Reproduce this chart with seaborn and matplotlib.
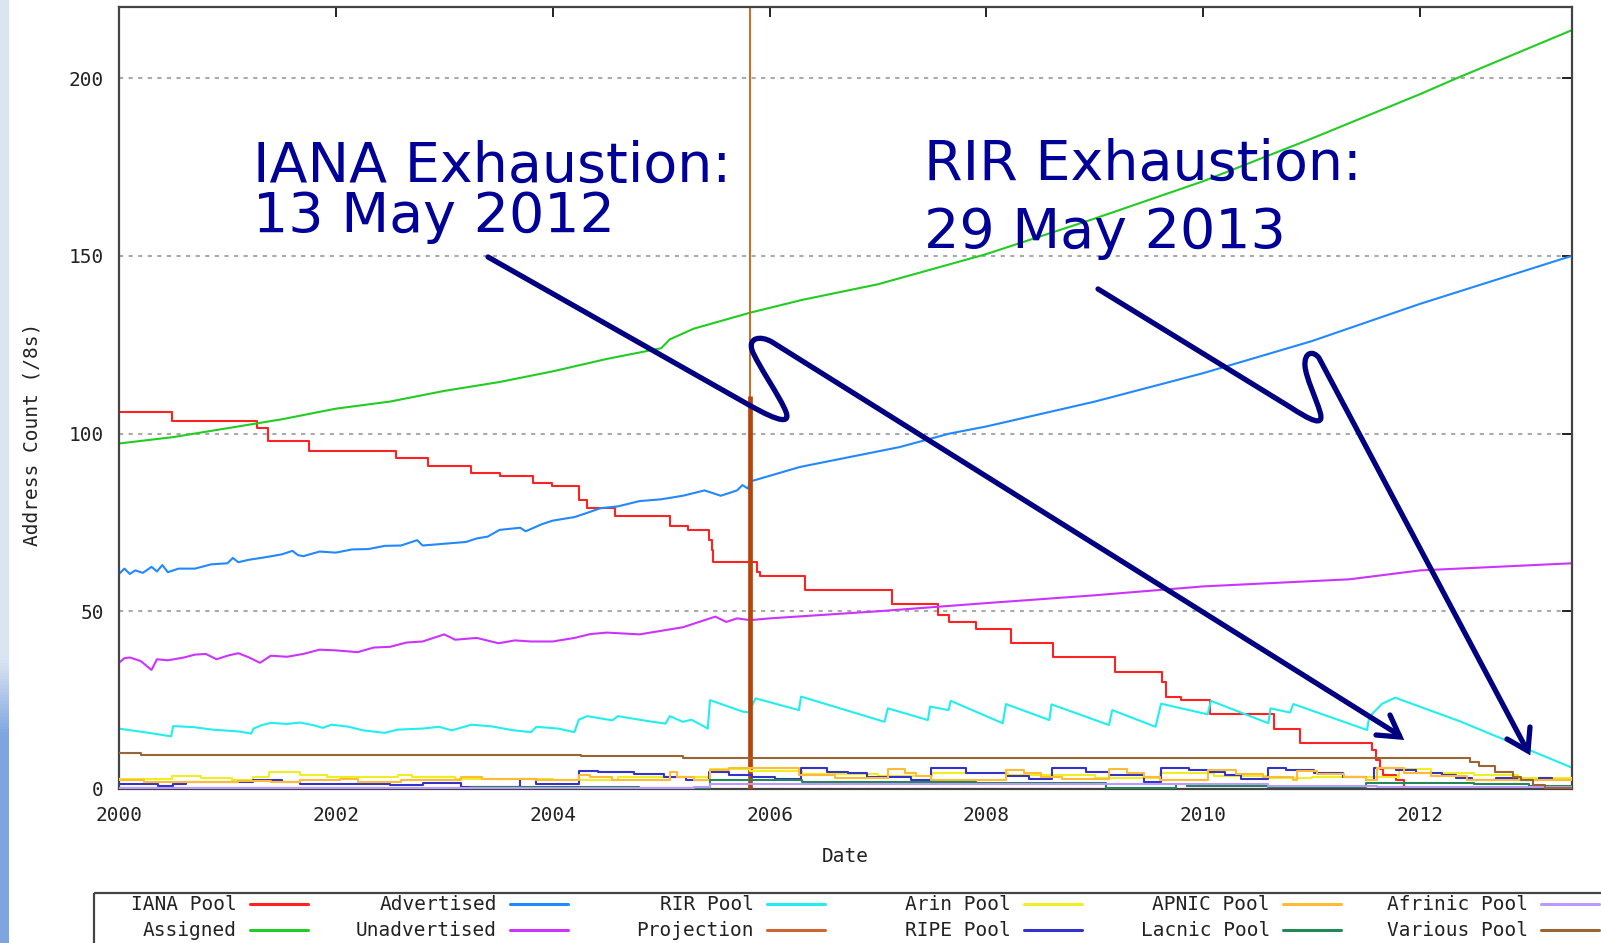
import numpy as np
import pandas as pd
import matplotlib
matplotlib.use("Agg")
import matplotlib.pyplot as plt
import seaborn as sns
from matplotlib.path import Path
from matplotlib.patches import PathPatch, Rectangle
from matplotlib.lines import Line2D
from matplotlib.transforms import Affine2D

W, H = 1601, 943

# ---------------- data ----------------
iana_x = [2000.0, 2000.49, 2001.27, 2001.37, 2001.75, 2002.55, 2002.85, 2003.25, 2003.51, 2003.82,
          2003.99, 2004.24, 2004.32, 2004.57, 2005.08, 2005.25, 2005.44, 2005.47, 2005.48, 2005.88,
          2005.91, 2006.33, 2007.13, 2007.55, 2007.65, 2007.9, 2008.23, 2008.61, 2009.19, 2009.62,
          2009.66, 2009.79, 2010.06, 2010.65, 2010.89, 2011.56, 2011.59, 2011.63, 2011.66, 2011.78,
          2011.85, 2013.4]
iana_y = [106, 103.5, 101.5, 98, 95, 93, 91, 89, 88, 86,
          85.2, 81.3, 79, 76.8, 74, 72.9, 70, 67.2, 64, 61.1,
          59.9, 56, 52, 49, 47, 45, 41, 37, 33, 30,
          26, 25, 21, 17, 13, 11, 8.2, 5.5, 4, 2.5,
          0, 0]

assigned_x = [2000.0, 2000.5, 2001.0, 2001.5, 2002.0, 2002.5, 2003.0, 2003.51, 2004.0, 2004.5,
              2005.0, 2005.08, 2005.3, 2005.82, 2006.3, 2007.0, 2008.0, 2009.0, 2010.0, 2011.0,
              2012.0, 2012.34, 2013.4]
assigned_y = [97.2, 99, 101.5, 104, 107, 109, 112, 114.5, 117.5, 121,
              124, 126.5, 129.5, 134, 137.6, 142, 150.5, 160.5, 171, 183,
              195.5, 200, 213.5]

advert_x = [2000.0, 2000.05, 2000.1, 2000.15, 2000.22, 2000.3, 2000.35, 2000.4, 2000.45, 2000.55,
            2000.7, 2000.85, 2001.0, 2001.05, 2001.1, 2001.2, 2001.35, 2001.5, 2001.6, 2001.65,
            2001.7, 2001.85, 2002.0, 2002.15, 2002.3, 2002.45, 2002.6, 2002.75, 2002.8, 2003.0,
            2003.2, 2003.3, 2003.4, 2003.51, 2003.7, 2003.75, 2003.9, 2004.0, 2004.2, 2004.3,
            2004.44, 2004.6, 2004.8, 2005.0, 2005.2, 2005.4, 2005.45, 2005.55, 2005.7, 2005.75,
            2005.8, 2005.82, 2006.28, 2007.2, 2007.66, 2008.0, 2009.0, 2010.0, 2011.0, 2012.0,
            2013.4]
advert_y = [60.5, 62, 60.5, 61.5, 60.8, 62.5, 61.2, 63, 61, 62,
            62, 63.2, 63.5, 65, 63.8, 64.5, 65.2, 66, 67, 65.8,
            65.5, 66.8, 66.5, 67.4, 67.5, 68.4, 68.5, 70, 68.5, 69,
            69.5, 70.5, 71, 72.9, 73.5, 72.5, 74.5, 75.5, 76.5, 77.5,
            79, 79.5, 81, 81.5, 82.5, 84, 83.5, 82.5, 84, 85.5,
            84.5, 86.5, 90.6, 96.2, 100, 102, 109, 117, 126, 136.5,
            150]

unadv_x = [2000.0, 2000.05, 2000.1, 2000.2, 2000.3, 2000.35, 2000.45, 2000.6, 2000.7, 2000.8,
           2000.9, 2001.0, 2001.1, 2001.2, 2001.3, 2001.4, 2001.55, 2001.7, 2001.85, 2002.0,
           2002.2, 2002.35, 2002.5, 2002.65, 2002.8, 2003.0, 2003.1, 2003.3, 2003.5, 2003.65,
           2003.8, 2004.0, 2004.2, 2004.35, 2004.5, 2004.8, 2005.0, 2005.2, 2005.5, 2005.6,
           2005.7, 2005.82, 2006.0, 2007.0, 2008.0, 2009.0, 2010.0, 2011.35, 2012.0, 2013.4]
unadv_y = [35.5, 36.8, 37, 36, 33.5, 36.5, 36.2, 37, 37.8, 38,
           36.5, 37.5, 38.2, 37, 35.5, 37.5, 37.2, 38, 39.2, 39,
           38.5, 39.8, 40, 41.2, 41.5, 43.5, 42, 42.5, 41, 41.8,
           41.5, 41.5, 42.5, 43.6, 44, 43.5, 44.5, 45.5, 48.5, 47,
           48, 47.5, 48, 50, 52.3, 54.5, 57, 59, 61.5, 63.5]

rir_x = [2000.0, 2000.11, 2000.23, 2000.36, 2000.48, 2000.5, 2000.69, 2000.86, 2001.1, 2001.22,
         2001.24, 2001.32, 2001.4, 2001.55, 2001.67, 2001.8, 2001.88, 2001.96, 2002.12, 2002.25,
         2002.45, 2002.57, 2002.8, 2002.95, 2003.07, 2003.25, 2003.44, 2003.64, 2003.8, 2003.85,
         2004.05, 2004.2, 2004.24, 2004.32, 2004.55, 2004.6, 2004.88, 2005.04, 2005.08, 2005.2,
         2005.28, 2005.43, 2005.45, 2005.76, 2005.81, 2005.87, 2006.27, 2006.29, 2007.06, 2007.09,
         2007.46, 2007.48, 2007.65, 2007.67, 2008.15, 2008.18, 2008.58, 2008.6, 2009.13, 2009.16,
         2009.56, 2009.61, 2010.04, 2010.07, 2010.6, 2010.62, 2010.8, 2010.83, 2011.51, 2011.53,
         2011.65, 2011.77, 2012.37, 2013.4]
rir_y = [17, 16.5, 16, 15.4, 14.8, 17.7, 17.4, 16.7, 16.2, 15.6,
         17, 18, 18.6, 18.3, 18.7, 17.9, 17.2, 18.1, 17.5, 16.5,
         15.8, 16.7, 17, 17.5, 16.5, 18.1, 17.6, 16.5, 16, 17.5,
         17, 16, 19.5, 20.5, 19.3, 20.5, 19.1, 18.4, 20.5, 18.9,
         19.5, 17, 25, 21.7, 21.6, 25.5, 22.2, 26, 18.9, 22.7,
         19.4, 23.2, 22.2, 24.8, 18.5, 23.9, 19.4, 23.8, 18, 22.2,
         17.5, 24, 21, 24.8, 18.5, 22.7, 21.5, 23.9, 16.6, 20.3,
         24, 25.7, 19, 6]

proj_year = 2005.82
proj_top = 110.5

arin_x = [2000.0, 2000.49, 2000.76, 2001.04, 2001.24, 2001.38, 2001.67, 2001.92, 2002.57, 2002.7,
          2003.1, 2004.0, 2004.6, 2005.45, 2005.82, 2006.3, 2007.0, 2007.5, 2008.2, 2009.0,
          2009.6, 2010.1, 2010.6, 2011.0, 2011.8, 2012.1, 2012.5, 2012.9, 2013.4]
arin_y = [2.7, 3.7, 3.0, 2.5, 3.4, 4.7, 4.0, 3.3, 4.0, 3.3,
          2.8, 2.4, 3.3, 5.7, 5.2, 4.2, 3.6, 4.6, 3.8, 3.2,
          4.5, 3.6, 3.0, 3.3, 5.5, 4.6, 3.9, 3.0, 3.0]

ripe_x = [2000.0, 2000.36, 2000.5, 2000.62, 2001.24, 2001.5, 2001.67, 2002.5, 2002.8, 2003.15,
          2003.7, 2003.85, 2004.24, 2004.42, 2004.75, 2005.03, 2005.23, 2005.44, 2005.63, 2005.84,
          2006.05, 2006.29, 2006.53, 2006.72, 2006.9, 2007.3, 2007.49, 2007.81, 2008.18, 2008.39,
          2008.6, 2008.92, 2009.13, 2009.45, 2009.61, 2009.87, 2010.04, 2010.2, 2010.35, 2010.6,
          2010.76, 2011.02, 2011.29, 2011.5, 2011.57, 2011.78, 2011.96, 2012.2, 2012.33, 2012.48,
          2012.7, 2012.89, 2013.1, 2013.22, 2013.4]
ripe_y = [1.4, 0.9, 1.4, 2.1, 2.6, 2.1, 1.4, 1.1, 1.6, 0.7,
          2.8, 1.5, 5.2, 4.7, 4.2, 3.3, 2.5, 4.9, 4.0, 3.5,
          2.7, 5.8, 4.9, 4.4, 3.5, 2.6, 5.8, 4.4, 3.6, 2.7,
          5.8, 4.8, 4.0, 2.1, 5.8, 5.3, 4.8, 3.8, 2.9, 5.8,
          5.3, 4.4, 3.5, 2.6, 5.8, 5.3, 4.6, 4.0, 3.1, 2.6,
          3.0, 2.4, 3.0, 2.5, 2.5]

apnic_x = [2000.0, 2000.23, 2001.1, 2001.4, 2001.67, 2002.04, 2002.2, 2002.6, 2003.15, 2003.35,
           2003.85, 2004.24, 2004.34, 2004.55, 2005.08, 2005.15, 2005.3, 2005.45, 2005.63, 2006.27,
           2006.6, 2007.09, 2007.25, 2007.35, 2007.49, 2008.18, 2008.35, 2008.5, 2008.7, 2009.13,
           2009.3, 2009.45, 2009.6, 2010.04, 2010.3, 2010.55, 2010.83, 2010.86, 2011.05, 2011.3,
           2011.5, 2011.6, 2011.85, 2012.1, 2012.43, 2013.4]
apnic_y = [2.6, 1.9, 2.3, 1.9, 2.4, 2.8, 2.1, 2.6, 3.3, 2.8,
           2.4, 3.9, 3.3, 2.4, 4.7, 3.3, 2.4, 5.4, 5.8, 4.0,
           3.0, 5.5, 4.6, 3.6, 2.6, 5.3, 4.4, 3.5, 2.7, 5.5,
           4.5, 3.5, 2.6, 5.3, 4.3, 3.4, 2.6, 5.2, 4.2, 3.3,
           2.6, 5.8, 4.6, 3.6, 2.6, 2.5]

lacnic_x = [2000.0, 2003.25, 2004.8, 2005.45, 2006.3, 2007.9, 2009.1, 2009.75, 2009.85, 2010.6,
            2011.5, 2012.5, 2013.0, 2013.4]
lacnic_y = [0.2, 0.7, 0.3, 2.4, 2.0, 1.6, 0.3, 1.5, 0.8, 0.5,
            1.8, 1.5, 0.8, 0.8]

afrinic_x = [2000.0, 2005.3, 2005.45, 2010.6, 2011.6, 2013.4]
afrinic_y = [0.3, 0.5, 1.5, 0.8, 0.5, 0.5]

various_x = [2000.0, 2000.2, 2004.26, 2005.2, 2012.46, 2012.54, 2012.69, 2012.86, 2012.93, 2013.04,
             2013.15, 2013.4]
various_y = [10.2, 9.7, 9.2, 8.6, 7.7, 6.5, 4.9, 3.5, 2.5, 1.1,
             0.4, 0.4]

x_ticks = [2000, 2002, 2004, 2006, 2008, 2010, 2012]
y_ticks = [0, 50, 100, 150, 200]

legend_names = ["IANA Pool", "Assigned", "Advertised", "Unadvertised", "RIR Pool", "Projection",
                "Arin Pool", "RIPE Pool", "APNIC Pool", "Lacnic Pool", "Afrinic Pool", "Various Pool"]
colors = {
    "IANA Pool": "#ff2222", "Assigned": "#22cc22", "Advertised": "#2288ff",
    "Unadvertised": "#cc33ff", "RIR Pool": "#22eeee", "Projection": "#cc6633",
    "Arin Pool": "#eeee22", "RIPE Pool": "#3333cc", "APNIC Pool": "#ffbb33",
    "Lacnic Pool": "#228855", "Afrinic Pool": "#bb99ff", "Various Pool": "#996633",
}
series = [
    ("IANA Pool", iana_x, iana_y, "steps-post"),
    ("Assigned", assigned_x, assigned_y, "default"),
    ("Advertised", advert_x, advert_y, "default"),
    ("Unadvertised", unadv_x, unadv_y, "default"),
    ("RIR Pool", rir_x, rir_y, "default"),
    ("Arin Pool", arin_x, arin_y, "steps-post"),
    ("RIPE Pool", ripe_x, ripe_y, "steps-post"),
    ("APNIC Pool", apnic_x, apnic_y, "steps-post"),
    ("Lacnic Pool", lacnic_x, lacnic_y, "steps-post"),
    ("Afrinic Pool", afrinic_x, afrinic_y, "steps-post"),
    ("Various Pool", various_x, various_y, "steps-post"),
]

# ---------------- figure ----------------
sns.set_style("white")
plt.rcParams['font.family'] = ['DejaVu Sans Mono', 'DejaVu Sans']

fig = plt.figure(figsize=(W / 100, H / 100), dpi=100)
fig.patch.set_facecolor("white")
px = Affine2D().scale(1.0 / W, -1.0 / H).translate(0, 1) + fig.transFigure

# slide background strip at the left
bg = fig.add_axes([0, 0, 9 / W, 1])
yy = np.linspace(0, 1, 300)
light = np.array([0.86, 0.90, 0.95])
blue = np.array([0.50, 0.65, 0.88])
t = np.clip((yy - 0.70) / 0.08, 0, 1)[:, None]
grad = (light * (1 - t) + blue * t)[:, None, :]
bg.imshow(grad, aspect="auto", extent=[0, 1, 1, 0])
bg.set_axis_off()

ax = fig.add_axes([119 / W, 1 - 789 / H, (1572 - 119) / W, (789 - 7) / H])

order = {n: i for i, n in enumerate(legend_names)}
for name, xs, ys, ds in series:
    sns.lineplot(x=xs, y=ys, ax=ax, color=colors[name], linewidth=1.5,
                 estimator=None, sort=False, drawstyle=ds, legend=False,
                 zorder=2 + order[name] * 0.1)
# projection marker
ax.axvline(proj_year, color="#d2691e", lw=1.4, zorder=2.5)
ax.vlines(proj_year, 0, proj_top, color="#b8440c", lw=3.4, zorder=2.55)

ax.set_xlim(2000, 2013.4)
ax.set_ylim(0, 220)
ax.set_xticks(x_ticks)
ax.set_yticks(y_ticks)
ax.set_xticklabels([str(v) for v in x_ticks])
ax.set_yticklabels([str(v) for v in y_ticks])
ax.tick_params(direction="in", length=7, width=1.4, top=True, right=True,
               labelsize=14, colors="#222222")
ax.tick_params(axis="x", pad=12)
ax.tick_params(axis="y", pad=11)
ax.yaxis.grid(True, color="#aaaaaa", linestyle=(0, (2, 2.6)), lw=1.5)
ax.xaxis.grid(False)
ax.set_axisbelow(True)
for sp in ax.spines.values():
    sp.set_color("#444444")
    sp.set_linewidth(1.6)
ax.set_xlabel("")
ax.set_ylabel("")

fig.text(32, 434, "Address Count (/8s)", transform=px, rotation=90,
         ha="center", va="center", fontsize=14, color="#222222")
fig.text(845, 856, "Date", transform=px, ha="center", va="center",
         fontsize=14, color="#222222")

# legend box (gnuplot style: label then sample)
fig.add_artist(Rectangle((94, 893), 1700, 200, transform=px, fill=False,
                         ec="#444444", lw=1.6, clip_on=False))
col_end = [237, 497, 754, 1011, 1270, 1528]
row_y = [905, 931]
for i, name in enumerate(legend_names):
    c, r = i // 2, i % 2
    e = col_end[c]
    fig.text(e, row_y[r], name, transform=px, ha="right", va="center",
             fontsize=14, color="#222222")
    fig.add_artist(Line2D([e + 13, e + 71], [row_y[r] - 1, row_y[r] - 1],
                          transform=px, color=colors[name], lw=2.2))

# annotations
navy_t = "#000099"
navy = "#000080"
fig.text(253, 182, "IANA Exhaustion:", transform=px, fontsize=40, color=navy_t,
         family="DejaVu Sans", va="baseline", ha="left")
fig.text(253, 232, "13 May 2012", transform=px, fontsize=40, color=navy_t,
         family="DejaVu Sans", va="baseline", ha="left")
fig.text(924, 180, "RIR Exhaustion:", transform=px, fontsize=40, color=navy_t,
         family="DejaVu Sans", va="baseline", ha="left")
fig.text(924, 248, "29 May 2013", transform=px, fontsize=40, color=navy_t,
         family="DejaVu Sans", va="baseline", ha="left")

def curvy_arrow(verts, codes, head):
    p = PathPatch(Path(verts, codes), transform=px, fill=False, ec=navy, lw=3.8,
                  capstyle="round", joinstyle="round", zorder=10)
    fig.add_artist(p)
    fig.add_artist(Line2D([h[0] for h in head], [h[1] for h in head], transform=px,
                          color=navy, lw=3.8, solid_capstyle="round",
                          solid_joinstyle="miter", zorder=10))

M, L, C = Path.MOVETO, Path.LINETO, Path.CURVE4
curvy_arrow(
    [(488, 257), (742, 401), (768, 416), (792, 428), (786, 412),
     (781, 398), (757, 364), (752, 350), (748, 338), (760, 335), (772, 342), (1399, 735)],
    [M, L, C, C, C, C, C, C, C, C, C, L],
    [(1390, 715), (1400, 737), (1376, 735)])
curvy_arrow(
    [(1098, 289), (1290, 407), (1310, 420), (1325, 428), (1320, 412),
     (1316, 398), (1306, 378), (1305, 366), (1304, 352), (1313, 350), (1319, 358), (1527, 750)],
    [M, L, C, C, C, C, C, C, C, C, C, L],
    [(1507, 739), (1528, 751), (1530, 727)])

fig.savefig("out.png", dpi=100)
